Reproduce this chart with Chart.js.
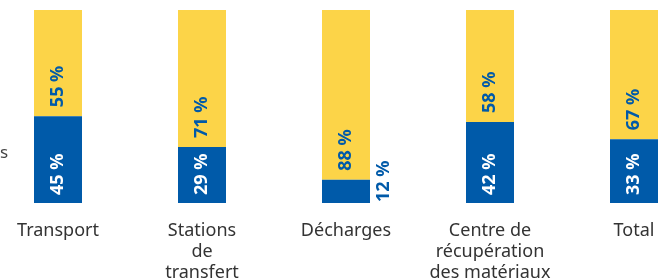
<!DOCTYPE html>
<html>
<head>
<meta charset="utf-8">
<script src="https://cdn.jsdelivr.net/npm/chart.js@4/dist/chart.umd.min.js"></script>
<style>
    html, body { margin: 0; padding: 0; background: #fff; overflow: hidden; width: 658px; height: 280px; }
    #wrap { position: absolute; left: -14px; top: 0; width: 720px; height: 290px; }
    #leftText { position: absolute; left: 0; top: 140px; font: 17px "Noto Sans", sans-serif; color: #444; }
</style>
</head>
<body>
<div id="wrap"><canvas id="chart"></canvas></div>
<span id="leftText">s</span>
<script>
// Chart data
const categories = ['Transport', ['Stations', 'de', 'transfert'], 'Décharges', ['Centre de', 'récupération', 'des matériaux'], 'Total'];
const blueValues = [45, 29, 12, 42, 33];
const yellowValues = [55, 71, 88, 58, 67];
const blueLabels = ['45 %', '29 %', '12 %', '42 %', '33 %'];
const yellowLabels = ['55 %', '71 %', '88 %', '58 %', '67 %'];

const BLUE = '#005aa9';
const YELLOW = '#fcd448';
const FONT = '"Noto Sans", sans-serif';

// Draws the rotated percentage labels on each segment
const rotatedLabels = {
    id: 'rotatedLabels',
    afterDatasetsDraw(chart) {
        const ctx = chart.ctx;
        const blueMeta = chart.getDatasetMeta(0);
        const yellowMeta = chart.getDatasetMeta(1);
        ctx.save();
        ctx.font = 'bold 18px ' + FONT;
        ctx.textBaseline = 'middle';
        ctx.textAlign = 'left';
        blueMeta.data.forEach((bar, i) => {
            const bottom = bar.base;
            const top = bar.y;
            const small = bottom - top < 45;  // too short for inside label
            // blue label
            ctx.save();
            if (small) {
                ctx.translate(bar.x + bar.width / 2 + 14, bottom - 1);
                ctx.fillStyle = BLUE;
            } else {
                ctx.translate(bar.x, bottom - 8);
                ctx.fillStyle = '#ffffff';
            }
            ctx.rotate(-Math.PI / 2);
            ctx.fillText(blueLabels[i], 0, 0);
            ctx.restore();
            // yellow label
            const yBar = yellowMeta.data[i];
            ctx.save();
            ctx.translate(yBar.x, top - 9);
            ctx.rotate(-Math.PI / 2);
            ctx.fillStyle = BLUE;
            ctx.fillText(yellowLabels[i], 0, 0);
            ctx.restore();
        });
        ctx.restore();
    }
};

new Chart(document.getElementById('chart'), {
    type: 'bar',
    data: {
        labels: categories,
        datasets: [
            { label: 'blue', data: blueValues, backgroundColor: BLUE },
            { label: 'yellow', data: yellowValues, backgroundColor: YELLOW }
        ]
    },
    options: {
        responsive: true,
        maintainAspectRatio: false,
        animation: false,
        layout: { padding: { top: 10, left: 0, right: 0, bottom: 0 } },
        datasets: { bar: { barPercentage: 1, categoryPercentage: 1 / 3 } },
        plugins: { legend: { display: false }, tooltip: { enabled: false } },
        scales: {
            x: {
                stacked: true,
                grid: { display: false },
                border: { display: false },
                ticks: {
                    color: '#333',
                    font: { family: FONT, size: 18, lineHeight: 1.17 },
                    padding: 9,
                    maxRotation: 0,
                    autoSkip: false
                },
                afterFit(scale) { scale.height = 87; }
            },
            y: {
                stacked: true,
                display: false,
                min: 0,
                max: 100
            }
        }
    },
    plugins: [rotatedLabels]
});
</script>
</body>
</html>
